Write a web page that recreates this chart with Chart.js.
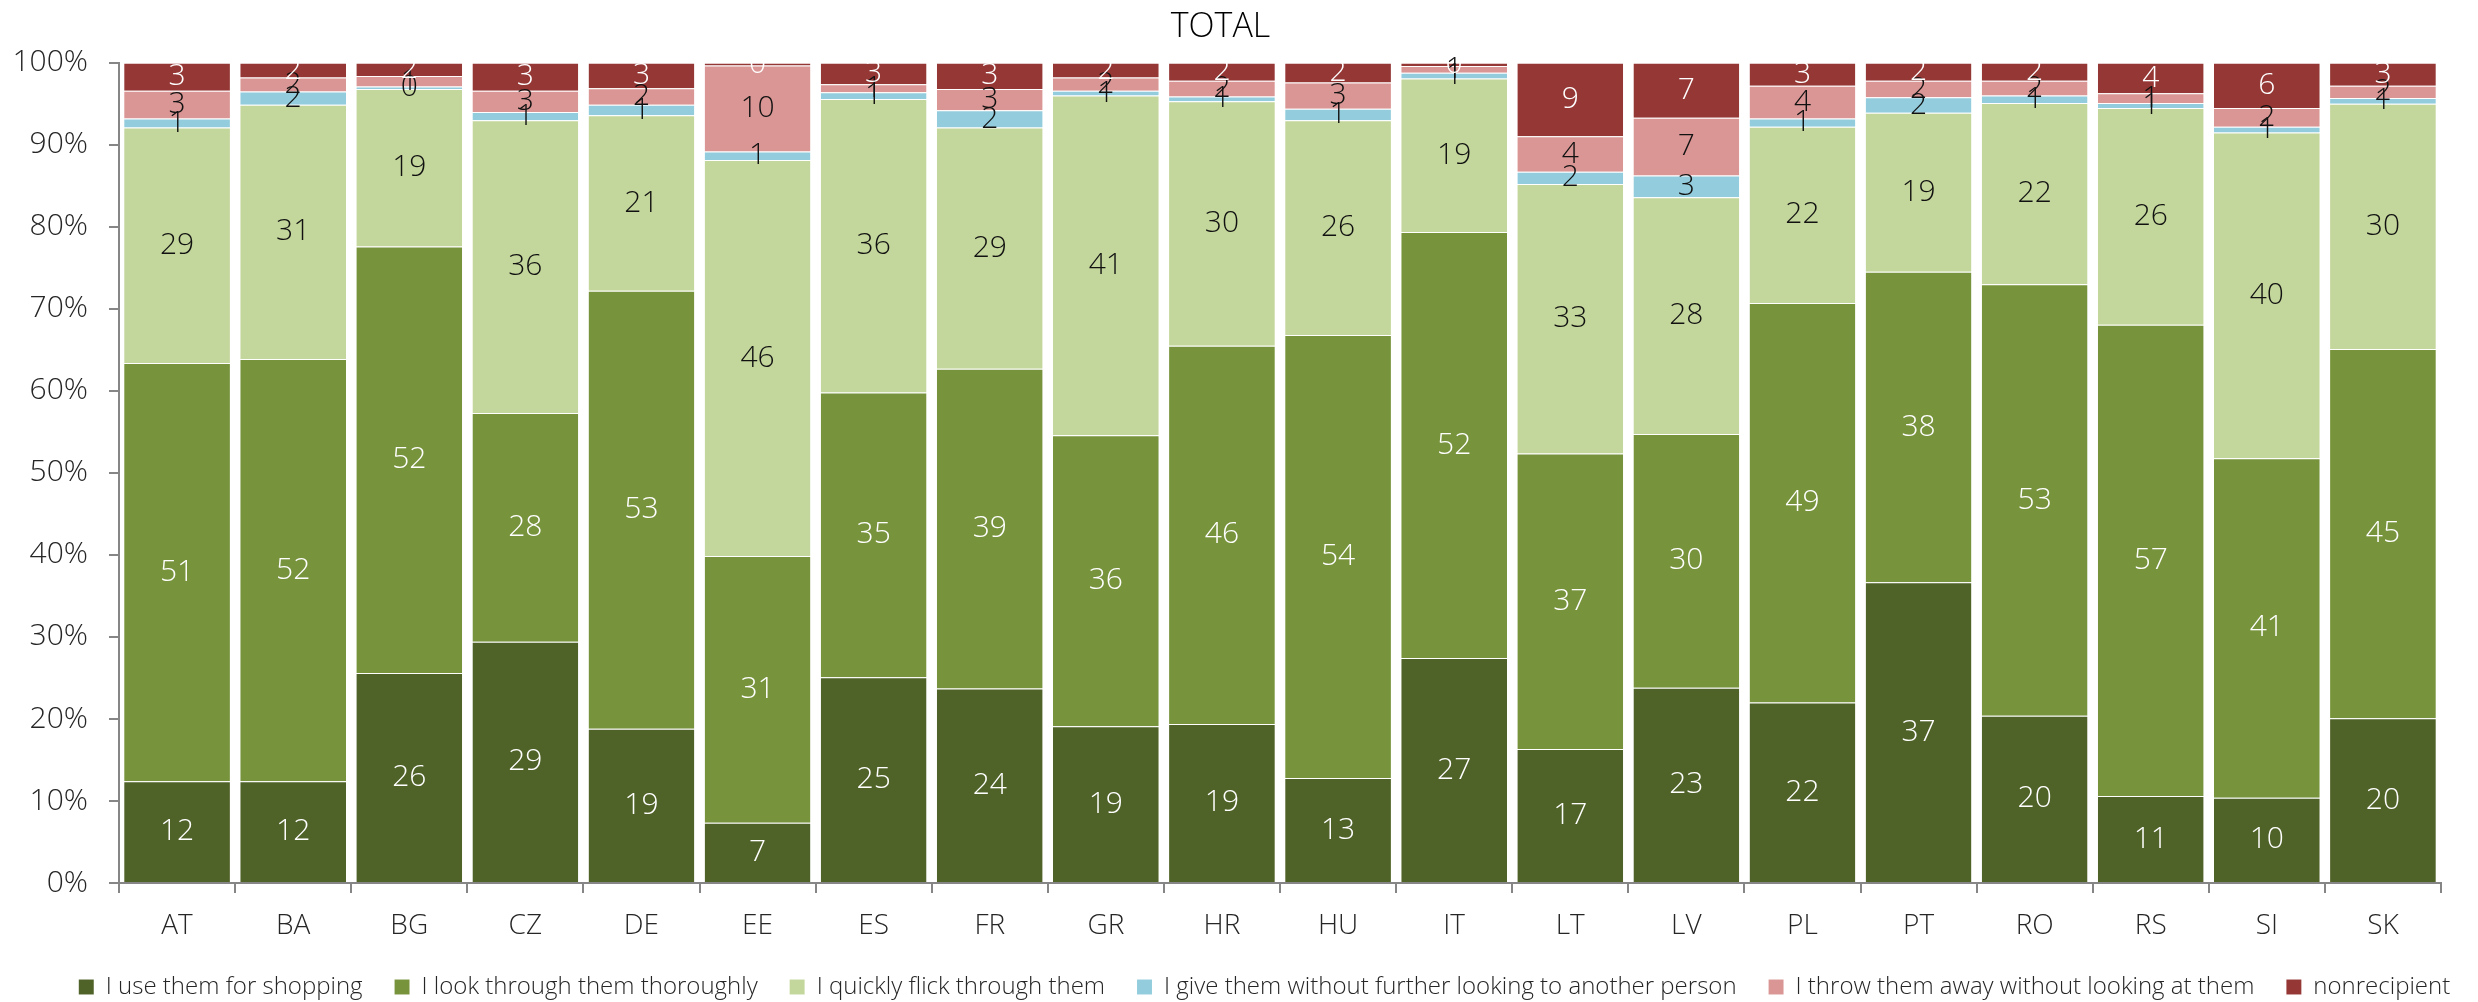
<!DOCTYPE html>
<html>
<head>
<meta charset="utf-8">
<script src="https://cdn.jsdelivr.net/npm/chart.js@4.4.1/dist/chart.umd.min.js"></script>
<style>
  html, body { margin: 0; padding: 0; background: #ffffff; }
  #wrap { width: 2478px; height: 1002px; position: relative; }
</style>
</head>
<body>
<div id="wrap"><canvas id="chart"></canvas></div>
<script>
// Countries on the x axis
const countries = ['AT', 'BA', 'BG', 'CZ', 'DE', 'EE', 'ES', 'FR', 'GR', 'HR',
                   'HU', 'IT', 'LT', 'LV', 'PL', 'PT', 'RO', 'RS', 'SI', 'SK'];

// Answer shares per country (%)
const shopping     = [12.4, 12.4, 25.6, 29.4, 18.8, 7.0, 25.1, 23.7, 19.1, 19.4, 12.8, 27.4, 16.6, 23.4, 22.0, 36.7, 20.4, 10.6, 10.4, 20.1];
const thorough     = [51.0, 51.5, 52.0, 27.9, 53.4, 31.0, 34.7, 39.0, 35.5, 46.1, 54.0, 51.9, 36.6, 30.4, 48.7, 37.9, 52.6, 57.4, 41.4, 45.0];
const quickFlick   = [28.7, 31.0, 19.2, 35.7, 21.4, 46.0, 35.8, 29.4, 41.4, 29.8, 26.2, 18.7, 33.4, 28.4, 21.5, 19.4, 22.1, 26.4, 39.7, 29.9];
const giveAway     = [1.1, 1.6, 0.3, 1.0, 1.3, 1.0, 0.8, 2.1, 0.6, 0.6, 1.4, 0.7, 1.5, 2.6, 1.0, 1.9, 0.9, 0.6, 0.7, 0.7];
const throwAway    = [3.4, 1.7, 1.3, 2.6, 2.0, 10.0, 1.0, 2.6, 1.6, 1.9, 3.2, 0.8, 4.4, 6.9, 4.0, 2.0, 1.8, 1.2, 2.3, 1.5];
const nonrecipient = [3.4, 1.8, 1.6, 3.4, 3.1, 0.3, 2.6, 3.2, 1.8, 2.2, 2.4, 0.4, 9.1, 6.6, 2.8, 2.2, 2.2, 3.7, 5.5, 2.8];

const seriesNames = [
    'I use them for shopping',
    'I look through them thoroughly',
    'I quickly flick through them',
    'I give them without further looking to another person',
    'I throw them away without looking at them',
    'nonrecipient'
];
const seriesValues = [shopping, thorough, quickFlick, giveAway, throwAway, nonrecipient];
const seriesColors = ['#4F6228', '#77933C', '#C3D69B', '#93CDDD', '#D99694', '#953735'];
const labelColors  = ['#ffffff', '#ffffff', '#111111', '#111111', '#111111', '#ffffff'];

const yTicks = [0, 10, 20, 30, 40, 50, 60, 70, 80, 90, 100];

const FONT_FAMILY = "'Open Sans', 'DejaVu Sans', sans-serif";
const LIGHT = '300';

// 100% stacking: every column is scaled to its own total
const totals = countries.map((c, j) => seriesValues.reduce((s, arr) => s + arr[j], 0));
const normalized = seriesValues.map(arr => arr.map((v, j) => v / totals[j] * 100));

// Draws the rounded value in the middle of every segment
const segmentLabels = {
    id: 'segmentLabels',
    afterDatasetsDraw(chart) {
        const ctx = chart.ctx;
        ctx.save();
        ctx.font = `${LIGHT} 30px ${FONT_FAMILY}`;
        ctx.textAlign = 'center';
        ctx.textBaseline = 'middle';
        chart.data.datasets.forEach((ds, i) => {
            const meta = chart.getDatasetMeta(i);
            if (meta.hidden) return;
            meta.data.forEach((bar, j) => {
                const p = bar.getProps(['x', 'y', 'base'], true);
                ctx.fillStyle = labelColors[i];
                ctx.fillText(String(Math.round(seriesValues[i][j])), p.x, (p.y + p.base) / 2);
            });
        });
        ctx.restore();
    }
};

// The legend row sits a little right of the canvas centre in the original
const legendShift = {
    id: 'legendShift',
    afterLayout(chart) {
        if (!chart.legend) return;
        chart.legend.left += 44;
        chart.legend.right += 44;
    }
};

new Chart(document.getElementById('chart'), {
    type: 'bar',
    data: {
        labels: countries,
        datasets: seriesNames.map((name, i) => ({
            label: name,
            data: normalized[i],
            backgroundColor: seriesColors[i],
            borderColor: 'rgba(255, 255, 255, 0.25)',
            borderWidth: { top: 1, right: 0, bottom: 0, left: 0 },
            borderSkipped: false,
            barPercentage: 0.911,
            categoryPercentage: 1.0
        }))
    },
    options: {
        responsive: true,
        maintainAspectRatio: false,
        animation: false,
        layout: { padding: { left: 0, right: 37, top: 0, bottom: -7 } },
        plugins: {
            title: {
                display: true,
                text: 'TOTAL',
                color: '#000000',
                font: { family: FONT_FAMILY, size: 34, weight: LIGHT },
                padding: { top: 7, bottom: 15 }
            },
            legend: {
                position: 'bottom',
                labels: {
                    color: '#262626',
                    font: { family: FONT_FAMILY, size: 24, weight: LIGHT },
                    boxWidth: 15,
                    boxHeight: 15,
                    padding: 32
                }
            },
            tooltip: { enabled: false }
        },
        scales: {
            x: {
                stacked: true,
                offset: true,
                afterFit(scale) {
                    scale.height = 60;
                },
                grid: {
                    offset: true,
                    drawOnChartArea: false,
                    drawTicks: true,
                    tickLength: 10,
                    color: '#868686',
                    lineWidth: 2
                },
                border: { color: '#868686', width: 2 },
                ticks: {
                    color: '#262626',
                    font: { family: FONT_FAMILY, size: 28, weight: LIGHT },
                    padding: 16
                }
            },
            y: {
                stacked: true,
                min: 0,
                max: 100,
                afterBuildTicks(scale) {
                    scale.ticks = yTicks.map(v => ({ value: v }));
                },
                afterFit(scale) {
                    scale.width = 119;
                },
                grid: {
                    drawOnChartArea: false,
                    drawTicks: true,
                    tickLength: 10,
                    color: '#868686',
                    lineWidth: 2
                },
                border: { color: '#868686', width: 2 },
                ticks: {
                    color: '#262626',
                    font: { family: FONT_FAMILY, size: 30, weight: LIGHT },
                    padding: 21,
                    callback: v => v + '%'
                }
            }
        }
    },
    plugins: [segmentLabels, legendShift]
});
</script>
</body>
</html>
